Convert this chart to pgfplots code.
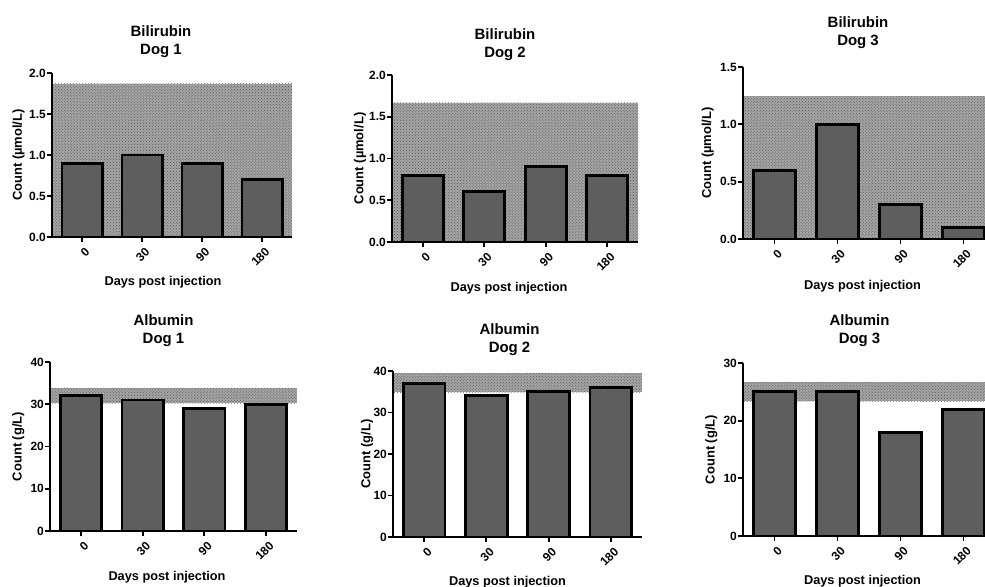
\documentclass[border=0pt]{standalone}
\usepackage{pgfplots}
\pgfplotsset{compat=1.18}
\usepackage{fontspec}
\setmainfont{Liberation Sans}
\usetikzlibrary{patterns}
\definecolor{barfill}{HTML}{5E5E5E}
\definecolor{bandfill}{HTML}{A6A6A6}
\definecolor{banddot}{HTML}{505050}

\pgfplotsset{
  panel/.style={
    scale only axis,
    anchor=south west,
    xmin=-0.5, xmax=3.5, ymin=0,
    axis x line*=bottom, axis y line*=left,
    axis line style={line width=2.3bp, black},
    axis on top,
    xtick={0,1,2,3}, xticklabels={0,30,90,180},
    tick align=outside,
    major tick length=5bp,
    tick style={line width=1.8bp, black},
    /pgf/number format/assume math mode=true,
    tick label style={font=\bfseries\fontsize{12}{12}\selectfont},
    xticklabel style={rotate=45, anchor=north east, inner sep=0pt, yshift=-5bp, xshift=-1.5bp},
    yticklabel style={inner sep=1bp},
    title style={font=\bfseries\fontsize{15}{18}\selectfont, align=center, anchor=south, inner sep=0pt},
    xlabel={Days post injection},
    xlabel style={font=\bfseries\fontsize{12.8}{14}\selectfont, anchor=base, inner sep=0pt},
    ylabel style={font=\bfseries\fontsize{13}{14}\selectfont, anchor=base, inner sep=0pt},
  },
  bil/.style={
    ylabel={Count (µmol/L)},
    yticklabel style={/pgf/number format/.cd, fixed, fixed zerofill, precision=1},
  },
  alb/.style={ylabel={Count (g/L)}},
  bars/.style={ybar, bar width=0.67, fill=barfill, draw=black, line width=2.8bp},
  band/.style={draw=none, fill=bandfill, postaction={pattern=crosshatch dots, pattern color=banddot}},
}

\begin{document}
\begin{tikzpicture}[x=1bp,y=1bp]
\useasboundingbox (0,0) rectangle (985,587);

% ---------- Bilirubin Dog 1
\begin{axis}[panel, bil, at={(52bp,350bp)}, width=240bp, height=164bp,
  ymax=2, ytick={0,0.5,1,1.5,2},
  title={Bilirubin\\Dog 1},
  title style={at={(axis description cs:0.5,1)}, xshift=-11bp, yshift=9bp},
  xlabel style={at={(axis description cs:0.5,0)}, xshift=-9bp, yshift=-48.7bp},
  ylabel style={at={(axis description cs:-0.126,0.5)}}]
\addplot[band] coordinates {(-0.5,0) (3.5,0) (3.5,1.87) (-0.5,1.87)} -- cycle;
\addplot[bars] coordinates {(0,0.9) (1,1.0) (2,0.9) (3,0.7)};
\end{axis}

% ---------- Bilirubin Dog 2
\begin{axis}[panel, bil, at={(392bp,345bp)}, width=246bp, height=167bp,
  ymax=2, ytick={0,0.5,1,1.5,2},
  title={Bilirubin\\Dog 2},
  title style={at={(axis description cs:0.5,1)}, xshift=-10bp, yshift=8.5bp},
  xlabel style={at={(axis description cs:0.5,0)}, xshift=-6bp, yshift=-49.5bp},
  ylabel style={at={(axis description cs:-0.116,0.5)}}]
\addplot[band] coordinates {(-0.5,0) (3.5,0) (3.5,1.665) (-0.5,1.665)} -- cycle;
\addplot[bars] coordinates {(0,0.8) (1,0.6) (2,0.9) (3,0.8)};
\end{axis}

% ---------- Bilirubin Dog 3
\begin{axis}[panel, bil, at={(743bp,348bp)}, width=252bp, height=172bp,
  ymax=1.5, ytick={0,0.5,1,1.5},
  title={Bilirubin\\Dog 3},
  title style={at={(axis description cs:0.5,1)}, xshift=-11bp, yshift=12bp},
  xlabel style={at={(axis description cs:0.5,0)}, xshift=-6.5bp, yshift=-51bp},
  ylabel style={at={(axis description cs:-0.127,0.5)}}]
\addplot[band] coordinates {(-0.5,0) (3.5,0) (3.5,1.245) (-0.5,1.245)} -- cycle;
\addplot[bars] coordinates {(0,0.6) (1,1.0) (2,0.3) (3,0.1)};
\end{axis}

% ---------- Albumin Dog 1
\begin{axis}[panel, alb, at={(50bp,56bp)}, width=247bp, height=169bp,
  ymax=40, ytick={0,10,20,30,40},
  title={Albumin\\Dog 1},
  title style={at={(axis description cs:0.5,1)}, xshift=-10bp, yshift=9.5bp},
  xlabel style={at={(axis description cs:0.5,0)}, xshift=-6.5bp, yshift=-49.5bp},
  ylabel style={at={(axis description cs:-0.115,0.5)}}]
\addplot[band] coordinates {(-0.5,30.2) (3.5,30.2) (3.5,33.9) (-0.5,33.9)} -- cycle;
\addplot[bars] coordinates {(0,32) (1,31) (2,29) (3,30)};
\end{axis}

% ---------- Albumin Dog 2
\begin{axis}[panel, alb, at={(393bp,50bp)}, width=249bp, height=166bp,
  ymax=40, ytick={0,10,20,30,40},
  title={Albumin\\Dog 2},
  title style={at={(axis description cs:0.5,1)}, xshift=-8bp, yshift=9.5bp},
  xlabel style={at={(axis description cs:0.5,0)}, xshift=-10bp, yshift=-48.5bp},
  ylabel style={at={(axis description cs:-0.091,0.5)}}]
\addplot[band] coordinates {(-0.5,34.9) (3.5,34.9) (3.5,39.5) (-0.5,39.5)} -- cycle;
\addplot[bars] coordinates {(0,37) (1,34) (2,35) (3,36)};
\end{axis}

% ---------- Albumin Dog 3
\begin{axis}[panel, alb, at={(743bp,51bp)}, width=252bp, height=173bp,
  ymax=30, ytick={0,10,20,30},
  title={Albumin\\Dog 3},
  title style={at={(axis description cs:0.5,1)}, xshift=-9.5bp, yshift=10.5bp},
  xlabel style={at={(axis description cs:0.5,0)}, xshift=-6.5bp, yshift=-49bp},
  ylabel style={at={(axis description cs:-0.113,0.5)}}]
\addplot[band] coordinates {(-0.5,23.4) (3.5,23.4) (3.5,26.7) (-0.5,26.7)} -- cycle;
\addplot[bars] coordinates {(0,25) (1,25) (2,18) (3,22)};
\end{axis}

\end{tikzpicture}
\end{document}
